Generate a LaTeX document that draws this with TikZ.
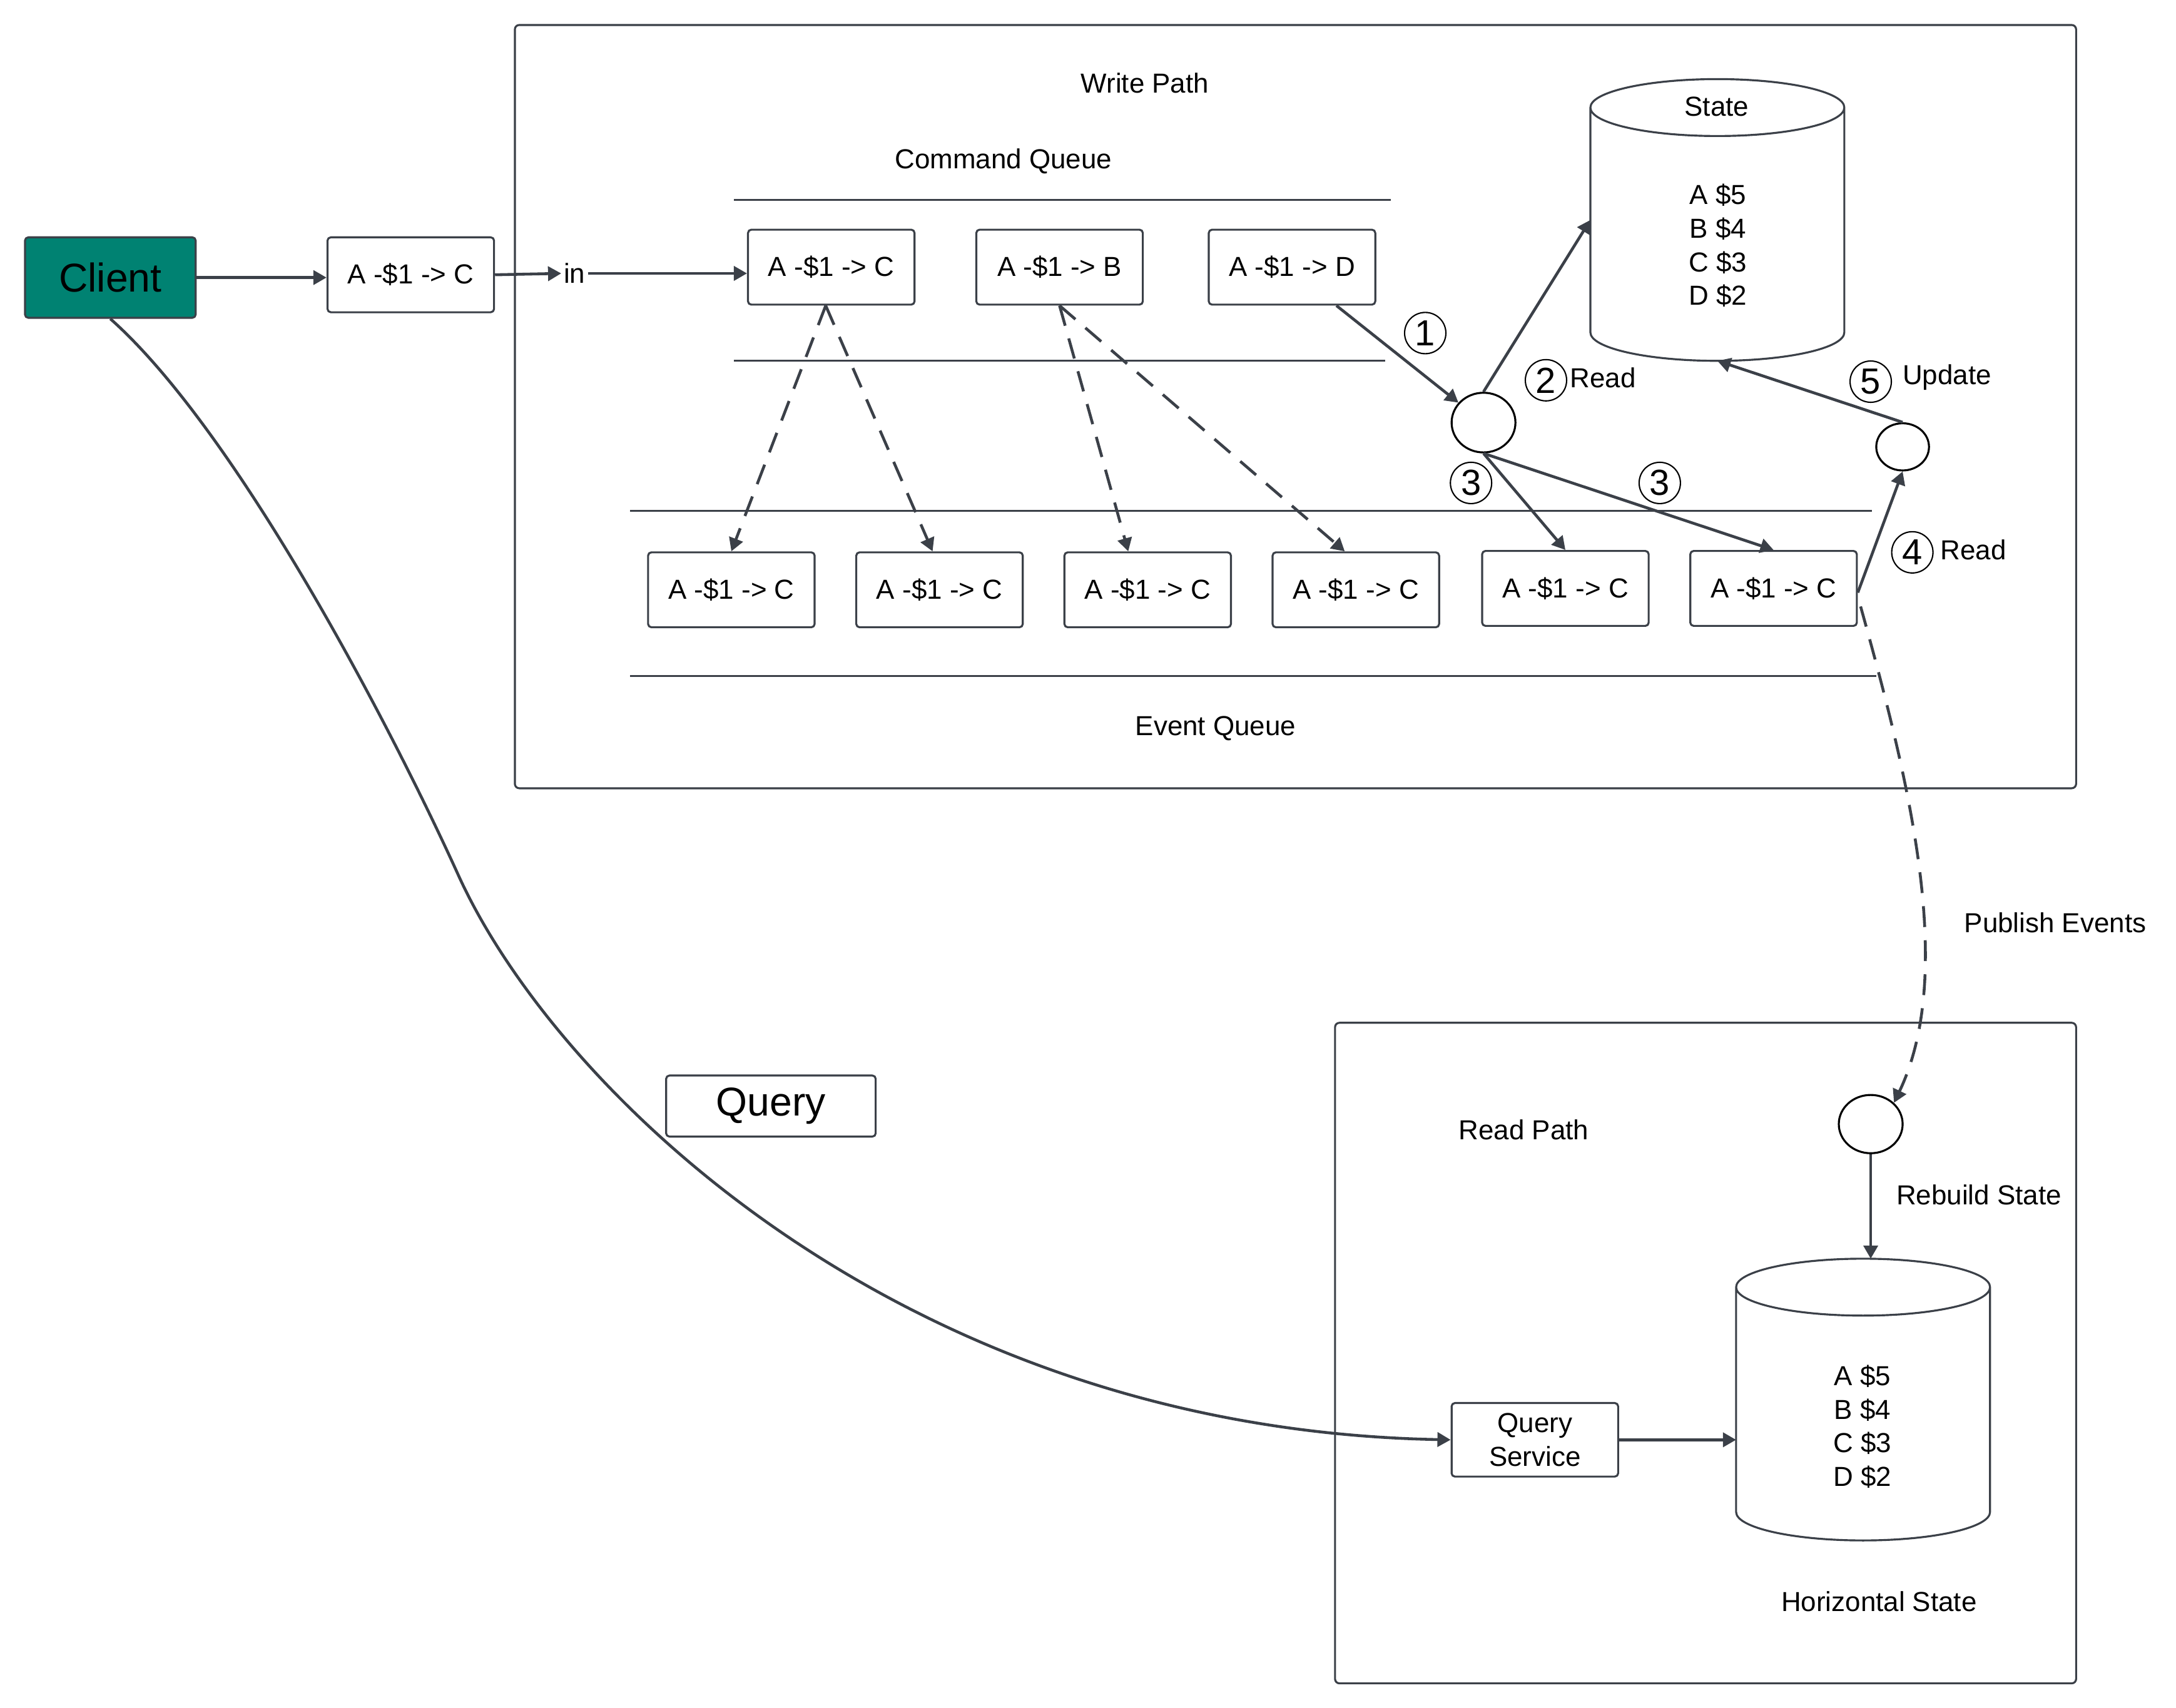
\documentclass[tikz,border=0pt]{standalone}
\usepackage{fontspec}
\setmainfont{Liberation Sans}
\usetikzlibrary{arrows.meta,shapes.geometric,calc}
\definecolor{ink}{HTML}{3B4048}
\definecolor{clientgreen}{HTML}{008272}
\begin{document}
\begin{tikzpicture}[x=0.02218cm, y=-0.02218cm, font=\fontsize{12.5}{15.25}\selectfont, line join=round,
  >={Triangle[length=6pt,width=6.5pt]},
  conn/.style={draw=ink, line width=1.3pt, ->},
  flow/.style={draw=ink, line width=1.3pt, dash pattern=on 9.5pt off 6pt, ->},
  msgbox/.style={draw=ink, line width=0.9pt, rounded corners=1.5pt, minimum width=120*0.02218cm, minimum height=54*0.02218cm, inner sep=0pt},
  frame/.style={draw=ink, line width=0.9pt, rounded corners=2pt},
  queue/.style={draw=ink, line width=0.9pt},
  proc/.style={draw=black, ellipse, line width=0.9pt, inner sep=0pt},
  store/.style={minimum width=183*0.02218cm, minimum height=203*0.02218cm, inner sep=0pt, outer sep=0pt},
  storeline/.style={draw=ink, line width=0.9pt},
  numc/.style={circle, draw=black, line width=0.6pt, minimum size=0.66cm, inner sep=0pt, font=\fontsize{16.5}{16.5}\selectfont},
  big/.style={font=\fontsize{18.3}{22}\selectfont}]
\useasboundingbox (0,0) rectangle (1568,1230.4);
\draw[frame] (371,18) rectangle (1496,568);
\draw[frame] (962,737) rectangle (1496,1213);
\draw[queue] (529,144)--(1002,144) (529,260)--(998,260);
\draw[queue] (454,368)--(1349,368) (454,487)--(1352,487);

\node (wp) at (825,60) {Write Path};
\node (cq) at (723,116) {Command Queue};
\node (eq) at (876,525) {Event Queue};
\node (rp) at (1098,814) {Read Path};
\node (pe) at (1481,665) {Publish Events};
\node (rb) at (1426,861) {Rebuild State};
\node (hs) at (1354,1154) {Horizontal State};

\node[msgbox, big, fill=clientgreen, minimum width=123*0.02218cm, minimum height=58*0.02218cm] (client) at (79.5,200) {Client};
\node[msgbox] (msg) at (296,198) {A -\$1 -> C};
\node[inner sep=1pt] (in) at (414,197) {in};
\node[msgbox, big, minimum width=151*0.02218cm, minimum height=44*0.02218cm] (query) at (555.5,797) {Query};

\foreach \n/\x/\t in {c1/599/C, c2/763.5/B, c3/931/D}
  \node[msgbox] (\n) at (\x,192.5) {A -\$1 -> \t};
\foreach \n/\x in {e1/527, e2/677, e3/827, e4/977}
  \node[msgbox] (\n) at (\x,425) {A -\$1 -> C};
\foreach \n/\x in {e5/1128, e6/1278}
  \node[msgbox] (\n) at (\x,424) {A -\$1 -> C};

\node[proc, minimum width=46*0.02218cm, minimum height=43*0.02218cm] (p1) at (1069,304.5) {};
\node[proc, minimum width=38*0.02218cm, minimum height=34*0.02218cm] (p2) at (1371,322) {};
\node[proc, minimum width=46*0.02218cm, minimum height=42*0.02218cm] (p3) at (1348,810) {};

\node[store] (state) at (1237.5,158.5) {};
\node (statelbl) at (1237,77) {State};
\node[align=center] (statevals) at (1238,177) {A \$5\\B \$4\\C \$3\\D \$2};
\node[store] (hstate) at (1342.5,1008.5) {};
\node[align=center] (hstatevals) at (1342,1028) {A \$5\\B \$4\\C \$3\\D \$2};
\foreach \s in {state,hstate}
  \draw[storeline] ($(\s.north)+(0,20.5)$) ellipse [x radius=2.03cm, y radius=0.455cm]
    ($(\s.north west)+(0,20.5)$) -- ($(\s.south west)+(0,-20.5)$)
    arc[start angle=180, end angle=360, x radius=2.03cm, y radius=0.455cm]
    -- ($(\s.north east)+(0,20.5)$);
\node[msgbox, align=center, minimum height=53*0.02218cm] (qs) at (1106,1037.5) {Query\\Service};

\node[numc] (n1) at (1027,240) {1};
\node[numc] (n2) at (1114,274) {2};
\node (r2) at (1155,272) {Read};
\node[numc] (n3a) at (1060,348) {3};
\node[numc] (n3b) at (1196,348) {3};
\node[numc] (n4) at (1378,398) {4};
\node (r4) at (1422,396) {Read};
\node[numc] (n5) at (1348,275) {5};
\node (up) at (1403,272) {Update};

\draw[conn] (client.east) -- (client.east -| msg.west);
\draw[conn] (msg.east) -- (in.west);
\draw[conn] (in.east) -- (in.east -| c1.west);
\draw[flow] ($(c1.south)+(-4,0)$) -- (e1.north);
\draw[flow] ($(c1.south)+(-4,0)$) -- ($(e2.north)+(-5,0)$);
\draw[flow] (c2.south) -- ($(e3.north)+(-14,0)$);
\draw[flow] (c2.south) -- ($(e4.north)+(-8,0)$);
\draw[conn] ($(c3.south)+(32,0)$) -- (p1);
\draw[conn] (p1.north) -- (state.west);
\draw[conn] (p1.south) -- (e5.north);
\draw[conn] (p1.south) -- (e6.north);
\draw[conn] ($(e6.east)+(0,3)$) -- (p2.south);
\draw[conn] (p2.north) -- (state.south);
\draw[flow] ($(e6.east)+(2,13)$) .. controls (1375,560) and (1410,700) .. (p3.north east);
\draw[conn] (p3.south) -- (p3.south |- hstate.north);
\draw[conn] (qs.east) -- (qs.east -| hstate.west);
\draw[conn] (client.south) .. controls (170,310) and (280,520) .. (330,630)
  .. controls (400,785) and (650,1030) .. (qs.west);
\end{tikzpicture}
\end{document}
